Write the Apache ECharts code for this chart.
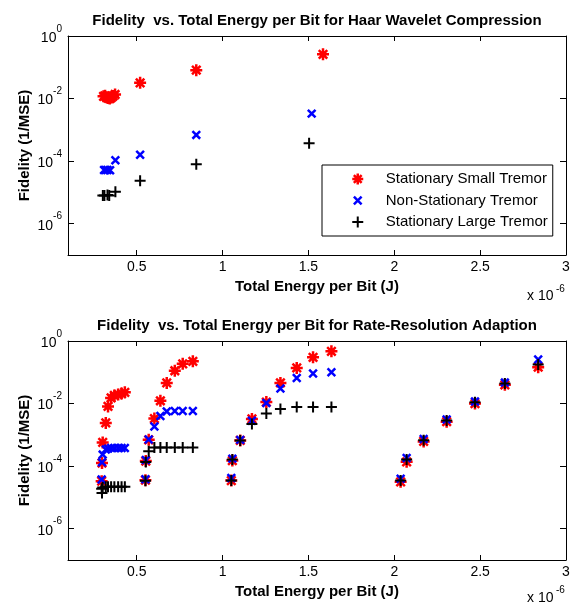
<!DOCTYPE html>
<html><head><meta charset="utf-8">
<script src="https://cdn.jsdelivr.net/npm/echarts@6/dist/echarts.min.js"></script>
<style>html,body{margin:0;padding:0;background:#fff}#c{width:574px;height:606px}</style>
</head><body><div id="c"></div>
<script>
// ---- data ----
const seriesNames = ['Stationary Small Tremor', 'Non-Stationary Tremor', 'Stationary Large Tremor'];
const titles = ['Fidelity  vs. Total Energy per Bit for Haar Wavelet Compression',
                'Fidelity  vs. Total Energy per Bit for Rate-Resolution Adaption'];
const xTicks = [0.5, 1, 1.5, 2, 2.5, 3];
const yTicks = [1e-6, 1e-4, 1e-2, 1];

// Top: Haar wavelet compression (x in 1e-6 J)
const haarSmallX = [0.307, 0.316, 0.325, 0.334, 0.343, 0.352, 0.362, 0.374, 0.520, 0.847, 1.585];
const haarSmallY = [0.0118, 0.0122, 0.0110, 0.0104, 0.0100, 0.0108, 0.0120, 0.0135, 0.032, 0.081, 0.26];
const haarNonX = [0.310, 0.320, 0.330, 0.345, 0.376, 0.520, 0.847, 1.519];
const haarNonY = [5.2e-5, 5.2e-5, 5.2e-5, 5.1e-5, 1.07e-4, 1.6e-4, 6.9e-4, 3.3e-3];
const haarLargeX = [0.303, 0.312, 0.330, 0.340, 0.376, 0.520, 0.847, 1.504];
const haarLargeY = [8.0e-6, 8.0e-6, 8.2e-6, 8.0e-6, 1.05e-5, 2.35e-5, 7.9e-5, 3.7e-4];

// Bottom: rate-resolution adaption
const rraX = [0.296, 0.298, 0.302, 0.320, 0.333, 0.351, 0.370, 0.392, 0.412, 0.431,
              0.551, 0.553, 0.570, 0.603, 0.638, 0.675, 0.722, 0.768, 0.827,
              1.051, 1.057, 1.103, 1.171, 1.255, 1.337, 1.432, 1.527, 1.634,
              2.037, 2.072, 2.171, 2.305, 2.470, 2.644, 2.838];
const rraSmallY = [3.31e-5, 1.26e-4, 5.75e-4, 2.40e-3, 8.13e-3, 1.51e-2, 1.82e-2, 1.95e-2, 2.09e-2, 2.29e-2,
                   3.55e-5, 1.45e-4, 6.92e-4, 3.31e-3, 1.23e-2, 4.57e-2, 0.112, 0.186, 0.224,
                   3.47e-5, 1.51e-4, 6.61e-4, 3.24e-3, 1.12e-2, 4.57e-2, 0.138, 0.302, 0.468,
                   3.16e-5, 1.38e-4, 6.17e-4, 2.63e-3, 1.00e-2, 3.98e-2, 0.145];
const rraNonY = [3.72e-5, 1.32e-4, 2.34e-4, 3.39e-4, 3.63e-4, 3.80e-4, 3.80e-4, 3.80e-4, 3.80e-4, 3.80e-4,
                 3.80e-5, 1.58e-4, 7.08e-4, 1.86e-3, 3.98e-3, 5.62e-3, 5.75e-3, 5.75e-3, 5.75e-3,
                 4.17e-5, 1.74e-4, 6.92e-4, 2.82e-3, 1.05e-2, 3.02e-2, 6.61e-2, 9.12e-2, 0.100,
                 3.98e-5, 1.82e-4, 7.41e-4, 3.09e-3, 1.17e-2, 4.68e-2, 0.257];
const rraLargeY = [1.91e-5, 1.38e-5, 2.09e-5, 2.19e-5, 2.19e-5, 2.19e-5, 2.19e-5, 2.19e-5, 2.19e-5, 2.19e-5,
                   3.39e-5, 1.35e-4, 3.02e-4, 3.98e-4, 3.98e-4, 3.98e-4, 3.98e-4, 3.98e-4, 3.98e-4,
                   3.47e-5, 1.62e-4, 6.61e-4, 2.24e-3, 4.79e-3, 6.76e-3, 7.76e-3, 7.76e-3, 7.76e-3,
                   3.47e-5, 1.62e-4, 6.76e-4, 2.88e-3, 1.10e-2, 4.37e-2, 0.178];

// ---- styling ----
const FONT = "'Liberation Sans', Arial, Helvetica, sans-serif";
const SYM_STAR = 'path://M0 5L10 5M5 0L5 10M1.46 1.46L8.54 8.54M1.46 8.54L8.54 1.46';
const SYM_X = 'path://M0 0M10 10M1.5 1.5L8.5 8.5M1.5 8.5L8.5 1.5';
const SYM_PLUS = 'path://M0 5L10 5M5 0L5 10';
const colors = ['#ff0000', '#0000ff', '#000000'];
const symbols = [SYM_STAR, SYM_X, SYM_PLUS];
const symSizes = [12, 11, 11];
const symWidths = [2.5, 2.5, 2];

function pairs(xs, ys) { return xs.map((x, i) => [x, ys[i]]); }

function xAx(grid, pos, showLabel) {
  return {
    type: 'value', gridIndex: grid, position: pos, min: 0.1, max: 3,
    axisLine: { show: true, onZero: false, lineStyle: { color: '#000', width: 1 } },
    axisTick: { show: true, inside: true, length: 5, customValues: xTicks, lineStyle: { color: '#000' } },
    axisLabel: { show: showLabel, customValues: xTicks, margin: 5, color: '#000', fontFamily: FONT, fontSize: 14,
                 formatter: v => String(v) },
    splitLine: { show: false },
    name: showLabel ? 'Total Energy per Bit (J)' : '',
    nameLocation: 'middle', nameGap: 24,
    nameTextStyle: { color: '#000', fontFamily: FONT, fontSize: 15, fontWeight: 'bold' }
  };
}
function yAx(grid, pos, showLabel) {
  return {
    type: 'log', logBase: 10, gridIndex: grid, position: pos, min: 1e-7, max: 1,
    axisLine: { show: true, onZero: false, lineStyle: { color: '#000', width: 1 } },
    axisTick: { show: true, inside: true, length: 6, customValues: yTicks, lineStyle: { color: '#000' } },
    minorTick: { show: false },
    axisLabel: { show: showLabel, customValues: yTicks, margin: 6, color: '#000', padding: [4, 0, 0, 0],
      formatter: v => '{b|10}{s|' + Math.round(Math.log10(v)) + '}',
      rich: {
        b: { fontFamily: FONT, fontSize: 14, color: '#000', lineHeight: 28, verticalAlign: 'middle' },
        s: { fontFamily: FONT, fontSize: 10, color: '#000', lineHeight: 10, verticalAlign: 'top' }
      } },
    splitLine: { show: false },
    name: showLabel ? 'Fidelity (1/MSE)' : '',
    nameLocation: 'middle', nameGap: 36, nameMoveOverlap: false,
    nameTextStyle: { color: '#000', fontFamily: FONT, fontSize: 15, fontWeight: 'bold' }
  };
}
function sc(k, grid, data) {
  return {
    name: seriesNames[k], type: 'scatter', xAxisIndex: grid * 2, yAxisIndex: grid * 2,
    data: data, symbol: symbols[k], symbolSize: symSizes[k],
    itemStyle: { color: colors[k], borderColor: colors[k], borderWidth: symWidths[k], opacity: 1 },
    emphasis: { disabled: true }, silent: true
  };
}

const option = {
  animation: false,
  backgroundColor: '#fff',
  title: [
    { text: titles[0], left: 317, top: 12, textAlign: 'center', padding: 0,
      textStyle: { fontFamily: FONT, fontSize: 15, fontWeight: 'bold', color: '#000', lineHeight: 18 } },
    { text: titles[1], left: 317, top: 317, textAlign: 'center', padding: 0,
      textStyle: { fontFamily: FONT, fontSize: 15, fontWeight: 'bold', color: '#000', lineHeight: 18 } }
  ],
  grid: [
    { left: 68, top: 36, width: 498, height: 219 },
    { left: 68, top: 341, width: 498, height: 219 }
  ],
  xAxis: [xAx(0, 'bottom', true), xAx(0, 'top', false), xAx(1, 'bottom', true), xAx(1, 'top', false)],
  yAxis: [yAx(0, 'left', true), yAx(0, 'right', false), yAx(1, 'left', true), yAx(1, 'right', false)],
  legend: {
    data: seriesNames.map((n, k) => ({ name: n, itemStyle: { color: colors[k], borderColor: colors[k], borderWidth: symWidths[k] } })),
    orient: 'vertical', left: 322, top: 165, padding: [5, 5, 5, 29],
    itemWidth: 46, itemHeight: 11, itemGap: 3.5,
    backgroundColor: '#fff', borderColor: '#000', borderWidth: 1, borderRadius: 0,
    selectedMode: false,
    textStyle: { fontFamily: FONT, fontSize: 15, color: '#000', lineHeight: 18 }
  },
  graphic: [
    { type: 'text', x: 527, y: 296, style: { text: 'x 10', font: '14px ' + FONT, fill: '#000', verticalAlign: 'middle', align: 'left' } },
    { type: 'text', x: 556, y: 289, style: { text: '-6', font: '10px ' + FONT, fill: '#000', verticalAlign: 'middle', align: 'left' } },
    { type: 'text', x: 527, y: 598, style: { text: 'x 10', font: '14px ' + FONT, fill: '#000', verticalAlign: 'middle', align: 'left' } },
    { type: 'text', x: 556, y: 590, style: { text: '-6', font: '10px ' + FONT, fill: '#000', verticalAlign: 'middle', align: 'left' } }
  ],
  series: [
    sc(0, 0, pairs(haarSmallX, haarSmallY)),
    sc(1, 0, pairs(haarNonX, haarNonY)),
    sc(2, 0, pairs(haarLargeX, haarLargeY)),
    sc(0, 1, pairs(rraX, rraSmallY)),
    sc(1, 1, pairs(rraX, rraNonY)),
    sc(2, 1, pairs(rraX, rraLargeY))
  ]
};
const chart = echarts.init(document.getElementById('c'));
chart.setOption(option);
</script>
</body></html>
